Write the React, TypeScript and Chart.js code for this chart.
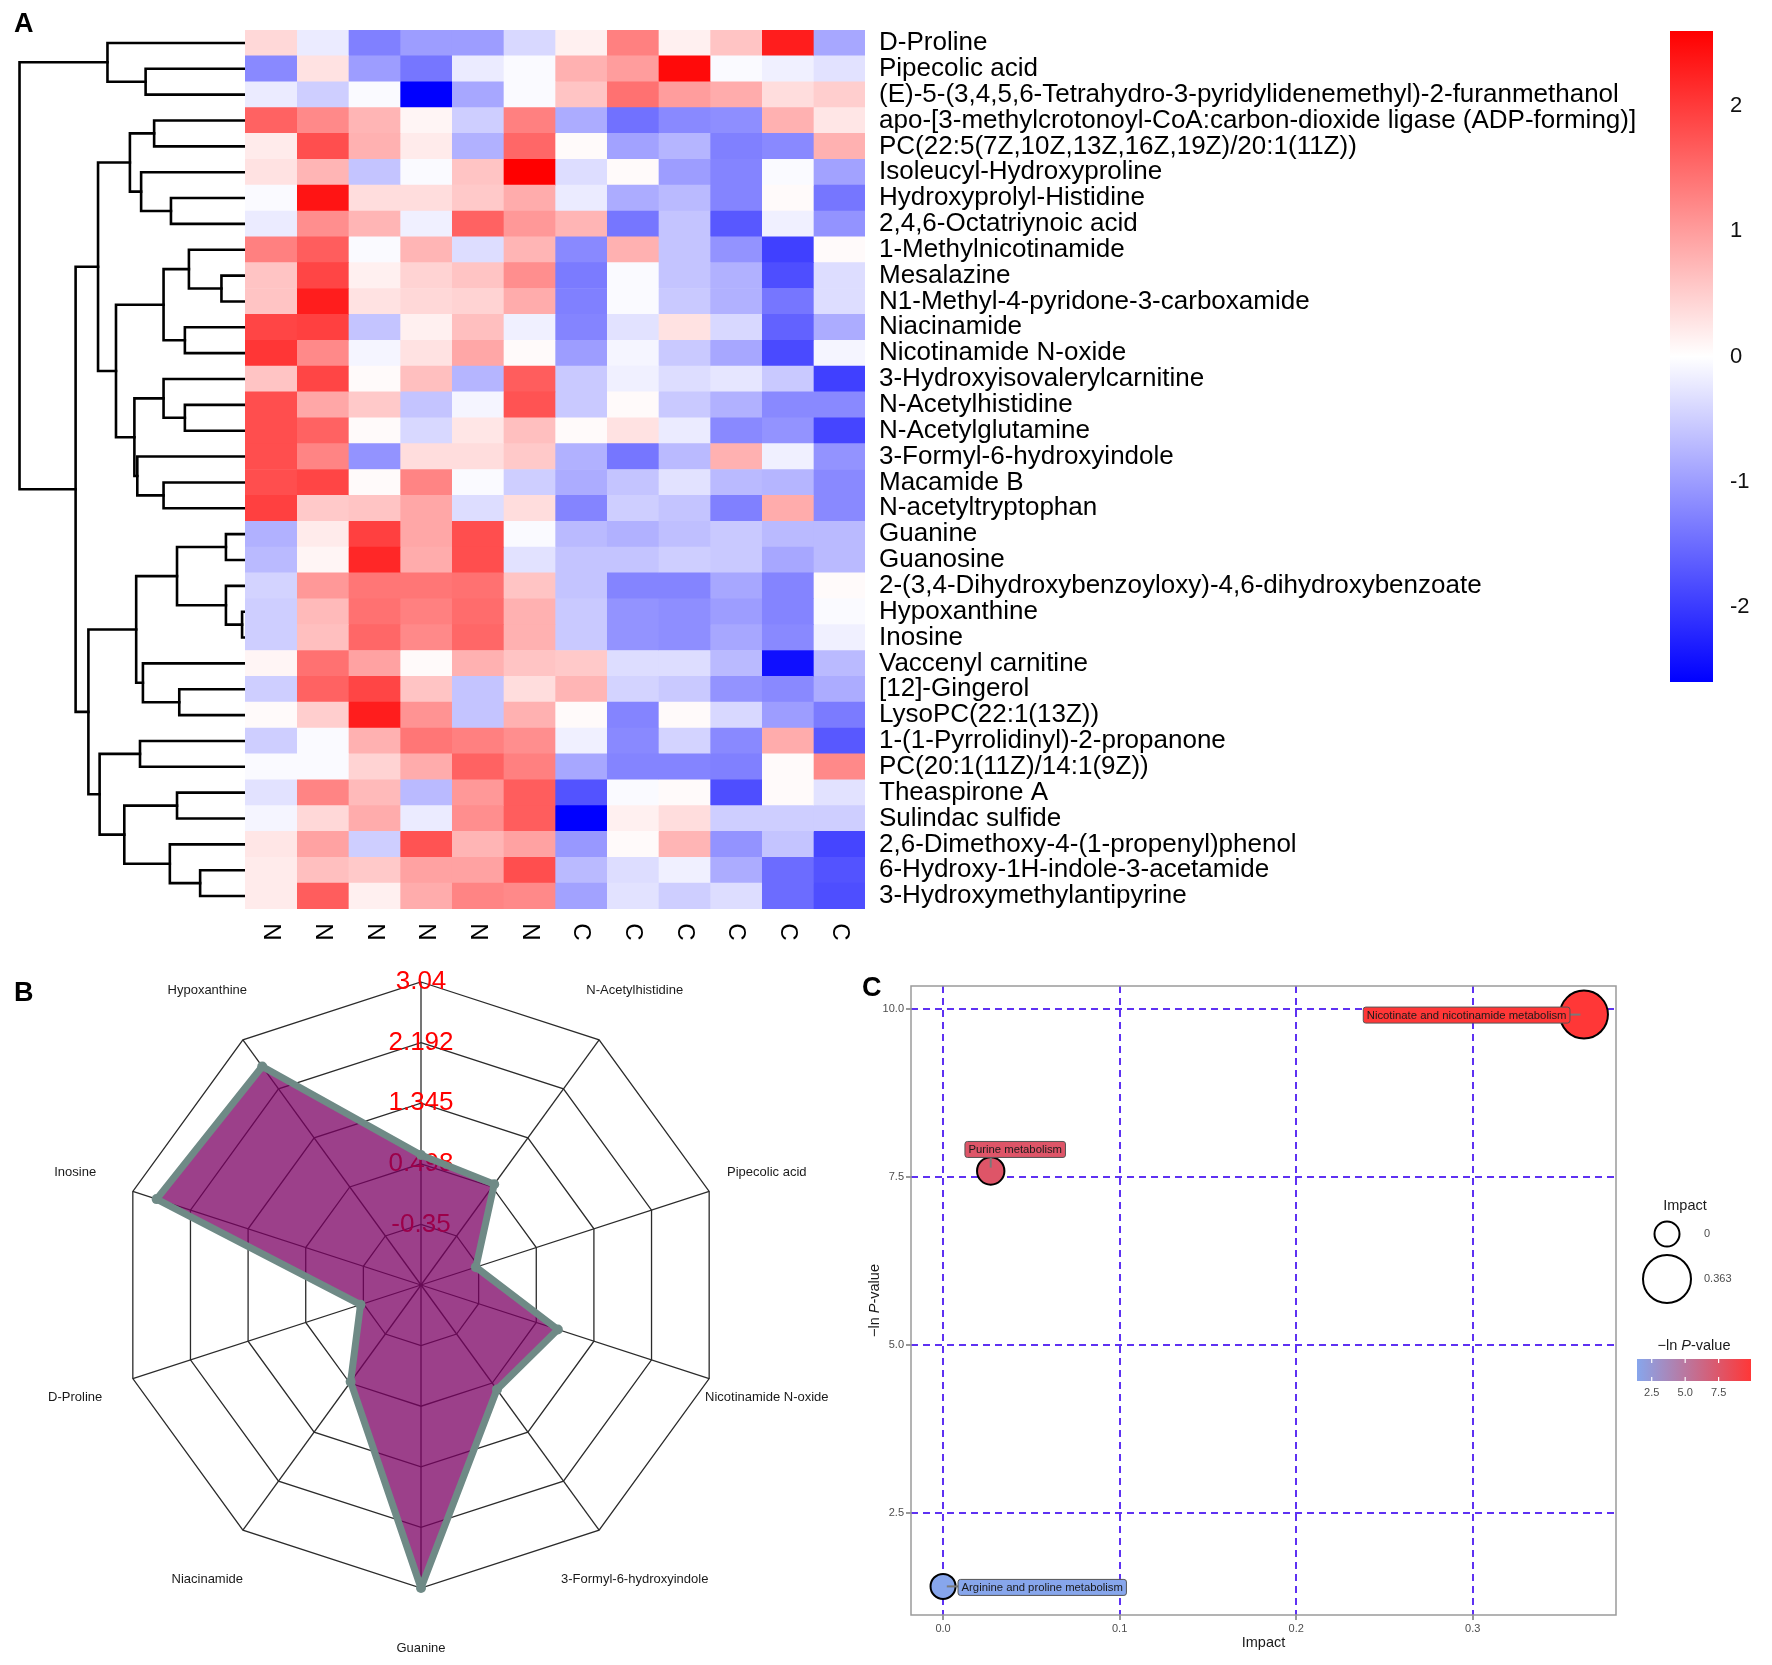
import React, { useEffect, useRef } from 'react';
import { Chart, registerables } from 'chart.js';

Chart.register(...registerables);

const FONT = "'Liberation Sans', Arial, Helvetica, sans-serif";

// ---------------- Panel A : heatmap data ----------------
const rowLabels: string[] = [
  'D-Proline',
  'Pipecolic acid',
  '(E)-5-(3,4,5,6-Tetrahydro-3-pyridylidenemethyl)-2-furanmethanol',
  'apo-[3-methylcrotonoyl-CoA:carbon-dioxide ligase (ADP-forming)]',
  'PC(22:5(7Z,10Z,13Z,16Z,19Z)/20:1(11Z))',
  'Isoleucyl-Hydroxyproline',
  'Hydroxyprolyl-Histidine',
  '2,4,6-Octatriynoic acid',
  '1-Methylnicotinamide',
  'Mesalazine',
  'N1-Methyl-4-pyridone-3-carboxamide',
  'Niacinamide',
  'Nicotinamide N-oxide',
  '3-Hydroxyisovalerylcarnitine',
  'N-Acetylhistidine',
  'N-Acetylglutamine',
  '3-Formyl-6-hydroxyindole',
  'Macamide B',
  'N-acetyltryptophan',
  'Guanine',
  'Guanosine',
  '2-(3,4-Dihydroxybenzoyloxy)-4,6-dihydroxybenzoate',
  'Hypoxanthine',
  'Inosine',
  'Vaccenyl carnitine',
  '[12]-Gingerol',
  'LysoPC(22:1(13Z))',
  '1-(1-Pyrrolidinyl)-2-propanone',
  'PC(20:1(11Z)/14:1(9Z))',
  'Theaspirone A',
  'Sulindac sulfide',
  '2,6-Dimethoxy-4-(1-propenyl)phenol',
  '6-Hydroxy-1H-indole-3-acetamide',
  '3-Hydroxymethylantipyrine',
];

const colLabels: string[] = ['N', 'N', 'N', 'N', 'N', 'N', 'C', 'C', 'C', 'C', 'C', 'C'];

// z-scores, one row per metabolite, columns N1..N6, C1..C6
const heatValues: number[][] = [
  [0.4, -0.2, -1.3, -1.0, -1.0, -0.4, 0.15, 1.3, 0.15, 0.6, 2.3, -0.9],
  [-1.2, 0.3, -1.0, -1.4, -0.2, -0.05, 0.8, 1.0, 2.5, -0.05, -0.15, -0.3],
  [-0.2, -0.5, -0.05, -2.6, -0.9, -0.05, 0.6, 1.45, 1.0, 0.85, 0.35, 0.5],
  [1.6, 1.2, 0.75, 0.1, -0.5, 1.3, -0.85, -1.45, -1.2, -1.15, 0.8, 0.25],
  [0.2, 1.8, 0.8, 0.2, -0.8, 1.55, 0.05, -0.95, -0.75, -1.3, -1.2, 0.8],
  [0.3, 0.75, -0.6, -0.05, 0.6, 2.6, -0.35, 0.05, -1.0, -1.25, -0.05, -0.95],
  [-0.05, 2.4, 0.35, 0.35, 0.55, 0.85, -0.2, -0.85, -0.7, -1.25, 0.05, -1.4],
  [-0.2, 1.15, 0.75, -0.15, 1.6, 1.05, 0.75, -1.4, -0.6, -1.7, -0.15, -1.1],
  [1.3, 1.65, -0.05, 0.75, -0.35, 0.75, -1.2, 0.8, -0.6, -1.1, -1.95, 0.05],
  [0.6, 1.9, 0.15, 0.45, 0.6, 1.15, -1.35, -0.05, -0.6, -0.8, -1.8, -0.35],
  [0.6, 2.3, 0.3, 0.4, 0.45, 0.85, -1.3, -0.05, -0.55, -0.8, -1.4, -0.35],
  [1.9, 1.95, -0.6, 0.15, 0.65, -0.15, -1.25, -0.3, 0.3, -0.4, -1.6, -0.85],
  [2.05, 1.2, -0.1, 0.3, 0.9, 0.05, -1.0, -0.1, -0.55, -0.9, -1.85, -0.1],
  [0.6, 1.9, 0.05, 0.65, -0.75, 1.65, -0.55, -0.15, -0.35, -0.25, -0.55, -1.95],
  [1.8, 0.9, 0.55, -0.6, -0.1, 1.75, -0.55, 0.05, -0.55, -0.8, -1.2, -1.2],
  [1.8, 1.6, 0.05, -0.4, 0.25, 0.65, 0.05, 0.3, -0.2, -1.2, -1.1, -1.9],
  [1.8, 1.25, -1.1, 0.35, 0.35, 0.55, -0.8, -1.4, -0.7, 0.8, -0.15, -1.1],
  [1.8, 1.9, 0.05, 1.25, -0.05, -0.5, -0.85, -0.6, -0.3, -0.7, -0.75, -1.2],
  [1.95, 0.55, 0.6, 0.9, -0.35, 0.35, -1.25, -0.5, -0.6, -1.3, 0.85, -1.2],
  [-0.8, 0.2, 1.95, 0.9, 1.8, -0.05, -0.7, -0.8, -0.65, -0.55, -0.7, -0.7],
  [-0.7, 0.1, 2.2, 0.85, 1.8, -0.3, -0.6, -0.6, -0.5, -0.55, -0.9, -0.7],
  [-0.45, 1.05, 1.4, 1.4, 1.45, 0.6, -0.6, -1.25, -1.25, -0.9, -1.25, 0.05],
  [-0.5, 0.7, 1.45, 1.3, 1.5, 0.8, -0.55, -1.1, -1.15, -1.0, -1.25, -0.05],
  [-0.5, 0.65, 1.55, 1.2, 1.55, 0.8, -0.55, -1.1, -1.15, -0.9, -1.2, -0.15],
  [0.1, 1.45, 0.95, 0.05, 0.8, 0.6, 0.55, -0.35, -0.35, -0.7, -2.45, -0.7],
  [-0.5, 1.6, 1.9, 0.6, -0.6, 0.35, 0.75, -0.45, -0.55, -1.1, -1.2, -0.85],
  [0.05, 0.5, 2.3, 1.1, -0.6, 0.8, 0.05, -1.25, 0.05, -0.4, -1.0, -1.35],
  [-0.5, -0.05, 0.8, 1.4, 1.3, 1.15, -0.15, -1.2, -0.45, -1.2, 0.85, -1.7],
  [-0.05, -0.05, 0.45, 0.85, 1.6, 1.3, -0.9, -1.25, -1.25, -1.3, 0.05, 1.2],
  [-0.3, 1.25, 0.7, -0.7, 1.05, 1.65, -1.75, -0.05, 0.05, -1.8, 0.05, -0.3],
  [-0.1, 0.4, 0.85, -0.2, 1.15, 1.65, -2.6, 0.15, 0.35, -0.5, -0.5, -0.5],
  [0.25, 0.95, -0.5, 1.75, 0.75, 0.95, -1.05, 0.05, 0.75, -1.1, -0.6, -1.9],
  [0.2, 0.65, 0.55, 0.95, 0.95, 1.8, -0.7, -0.35, -0.15, -0.85, -1.5, -1.75],
  [0.2, 1.65, 0.15, 0.85, 1.25, 1.2, -0.95, -0.3, -0.5, -0.35, -1.5, -1.8],
];

const heatLimit = 2.6;
const heatTicks: number[] = [-2, -1, 0, 1, 2];

// hclust-style merge list: negative = leaf (1-based row), positive = earlier merge; third = height
const dendroMerges: [number, number, number][] = [
  [-2, -3, 4.43],
  [-1, 1, 6.13],
  [-4, -5, 4.05],
  [-7, -8, 3.3],
  [-6, 4, 4.63],
  [3, 5, 5.13],
  [-10, -11, 1.05],
  [-9, 7, 2.5],
  [-12, -13, 2.68],
  [8, 9, 3.63],
  [-15, -16, 2.68],
  [-14, 11, 3.63],
  [-18, -19, 3.63],
  [-17, 13, 4.8],
  [12, 14, 4.93],
  [10, 15, 5.75],
  [6, 16, 6.55],
  [-20, -21, 0.85],
  [-23, -24, 0.13],
  [-22, 19, 0.85],
  [18, 20, 3.03],
  [-26, -27, 2.93],
  [-25, 22, 4.55],
  [21, 23, 4.85],
  [-28, -29, 4.68],
  [-30, -31, 3.03],
  [-33, -34, 2.0],
  [-32, 27, 3.35],
  [26, 28, 5.38],
  [25, 29, 6.48],
  [24, 30, 6.98],
  [17, 31, 7.55],
  [2, 32, 10.05],
];
const dendroMaxHeight = 10.92;

// ---------------- Panel B : radar data ----------------
const radarLabels: string[] = [
  '',
  'N-Acetylhistidine',
  'Pipecolic acid',
  'Nicotinamide N-oxide',
  '3-Formyl-6-hydroxyindole',
  'Guanine',
  'Niacinamide',
  'D-Proline',
  'Inosine',
  'Hypoxanthine',
];
const radarValues: number[] = [0.62, 0.544, -0.39, 0.815, 0.61, 3.04, 0.477, -0.308, 2.69, 2.58];
const radarTickValues: number[] = [-1.1975, -0.35, 0.4975, 1.345, 2.1925, 3.04];
const radarTickLabels: string[] = ['', '-0.35', '0.498', '1.345', '2.192', '3.04'];

// ---------------- Panel C : pathway bubble data ----------------
const pathwayNames: string[] = [
  'Nicotinate and nicotinamide metabolism',
  'Purine metabolism',
  'Arginine and proline metabolism',
];
const pathwayImpact: number[] = [0.363, 0.027, 0];
const pathwayNegLnP: number[] = [9.92, 7.59, 1.4];
const impactTicks: number[] = [0, 0.1, 0.2, 0.3];
const negLnPTicks: number[] = [2.5, 5, 7.5, 10];
const colorbarTicks: number[] = [2.5, 5.0, 7.5];
const sizeLegendValues: number[] = [0, 0.363];

// ---------------- styles ----------------
const lowRGB = [135, 166, 236];
const highRGB = [255, 55, 55];
const gridBlue = '#5e32f2';
const sizeRange = [12.5, 24];
const labelPlacement = [
  { anchor: 'right', dx: -14, dy: 0.5 },
  { anchor: 'center', dx: 24.5, dy: -21.5 },
  { anchor: 'left', dx: 15, dy: 1 },
];

function heatColor(v: number): string {
  const t = Math.max(-1, Math.min(1, v / heatLimit));
  if (t >= 0) {
    const c = Math.round(255 * (1 - t));
    return `rgb(255,${c},${c})`;
  }
  const c = Math.round(255 * (1 + t));
  return `rgb(${c},${c},255)`;
}

const pMin = Math.min(...pathwayNegLnP);
const pMax = Math.max(...pathwayNegLnP);
function pColor(v: number): string {
  const t = (v - pMin) / (pMax - pMin);
  const c = lowRGB.map((l, k) => Math.round(l + (highRGB[k] - l) * t));
  return `rgb(${c[0]},${c[1]},${c[2]})`;
}
const iMax = Math.max(...pathwayImpact);
function sizeFor(imp: number): number {
  const t = imp / iMax;
  const a = sizeRange[0] * sizeRange[0];
  const b = sizeRange[1] * sizeRange[1];
  return Math.sqrt(a + t * (b - a));
}

const panelLetter = (text: string, x: number, y: number) => ({
  id: 'letter' + text,
  afterDraw(chart: any) {
    const ctx = chart.ctx;
    ctx.save();
    ctx.font = `bold 27px ${FONT}`;
    ctx.fillStyle = '#000';
    ctx.textAlign = 'left';
    ctx.textBaseline = 'alphabetic';
    ctx.fillText(text, x, y);
    ctx.restore();
  },
});

function drawMixed(ctx: any, parts: [string, boolean][], x: number, y: number, size: number) {
  const widths = parts.map(([t, it]) => {
    ctx.font = `${it ? 'italic ' : ''}${size}px ${FONT}`;
    return ctx.measureText(t).width;
  });
  const total = widths.reduce((s, w) => s + w, 0);
  let cx = x - total / 2;
  ctx.textAlign = 'left';
  parts.forEach(([t, it], k) => {
    ctx.font = `${it ? 'italic ' : ''}${size}px ${FONT}`;
    ctx.fillText(t, cx, y);
    cx += widths[k];
  });
}
const pTitle: [string, boolean][] = [['\u2212ln ', false], ['P', true], ['-value', false]];

// ---------------- chart builders ----------------
function makeDendro() {
  const pos: { x: number; y: number }[] = [];
  const get = (ref: number) => (ref < 0 ? { x: 0, y: -ref - 1 } : pos[ref - 1]);
  const segs: { x: number; y: number }[][] = [];
  dendroMerges.forEach(([a, b, h]) => {
    const pa = get(a);
    const pb = get(b);
    segs.push([
      { x: pa.x, y: pa.y },
      { x: h, y: pa.y },
      { x: h, y: pb.y },
      { x: pb.x, y: pb.y },
    ]);
    pos.push({ x: h, y: (pa.y + pb.y) / 2 });
  });
  return {
    type: 'scatter',
    data: {
      datasets: segs.map((d) => ({
        data: d,
        showLine: true,
        borderColor: '#000',
        borderWidth: 2.6,
        pointRadius: 0,
        fill: false,
        tension: 0,
        borderCapStyle: 'square',
        borderJoinStyle: 'miter',
      })),
    },
    options: {
      animation: false,
      responsive: false,
      layout: { padding: { top: 30, bottom: 11, left: 0, right: 0 } },
      plugins: { legend: { display: false }, tooltip: { enabled: false } },
      scales: {
        x: { type: 'linear', reverse: true, min: 0, max: dendroMaxHeight, display: false },
        y: { type: 'linear', reverse: true, min: -0.5, max: rowLabels.length - 0.5, display: false },
      },
    },
    plugins: [panelLetter('A', 14, 32)],
  };
}

const colLabelPlugin = {
  id: 'colLabels',
  afterDraw(chart: any) {
    const { ctx, chartArea, scales } = chart;
    ctx.save();
    ctx.fillStyle = '#000';
    ctx.font = `24px ${FONT}`;
    ctx.textAlign = 'center';
    ctx.textBaseline = 'middle';
    colLabels.forEach((lab, c) => {
      const x = scales.x.getPixelForValue(c + 0.5);
      ctx.save();
      ctx.translate(x, chartArea.bottom + 23);
      ctx.rotate(Math.PI / 2);
      ctx.fillText(lab, 0, 0);
      ctx.restore();
    });
    ctx.restore();
  },
};

function makeHeatmap() {
  return {
    type: 'bar',
    data: {
      labels: rowLabels,
      datasets: colLabels.map((lab, c) => ({
        label: `${lab}${c + 1}`,
        data: heatValues.map(() => 1),
        backgroundColor: heatValues.map((row) => heatColor(row[c])),
        borderWidth: 0,
        barPercentage: 1,
        categoryPercentage: 1,
      })),
    },
    options: {
      indexAxis: 'y',
      animation: false,
      responsive: false,
      layout: { padding: { top: 30, bottom: 51, left: 0, right: 0 } },
      plugins: { legend: { display: false }, tooltip: { enabled: false } },
      scales: {
        x: { stacked: true, min: 0, max: colLabels.length, display: false },
        y: {
          stacked: true,
          position: 'right',
          grid: { display: false, drawTicks: false },
          border: { display: false },
          ticks: { autoSkip: false, padding: 14, color: '#000', font: { family: FONT, size: 26 } },
          afterFit: (s: any) => {
            s.width = 795;
          },
        },
      },
    },
    plugins: [colLabelPlugin],
  };
}

function makeHeatScale() {
  return {
    type: 'bar',
    data: {
      labels: [''],
      datasets: [
        {
          data: [[-heatLimit, heatLimit]],
          backgroundColor: (ctx: any) => {
            const chart = ctx.chart;
            const y = chart.scales && chart.scales.y;
            if (!y || !chart.chartArea) return '#fff';
            const y0 = y.getPixelForValue(-heatLimit);
            const y1 = y.getPixelForValue(heatLimit);
            if (!isFinite(y0) || !isFinite(y1) || y0 === y1) return '#fff';
            const g = chart.ctx.createLinearGradient(0, y0, 0, y1);
            g.addColorStop(0, heatColor(-heatLimit));
            g.addColorStop(0.5, heatColor(0));
            g.addColorStop(1, heatColor(heatLimit));
            return g;
          },
          borderWidth: 0,
          barPercentage: 1,
          categoryPercentage: 1,
        },
      ],
    },
    options: {
      animation: false,
      responsive: false,
      layout: { padding: { top: 31, bottom: 31, left: 10, right: 0 } },
      plugins: { legend: { display: false }, tooltip: { enabled: false } },
      scales: {
        x: { display: false },
        y: {
          position: 'right',
          min: -heatLimit,
          max: heatLimit,
          grid: { display: false, drawTicks: false },
          border: { display: false },
          afterBuildTicks: (s: any) => {
            s.ticks = heatTicks.map((v) => ({ value: v }));
          },
          ticks: { padding: 17, color: '#111', font: { family: FONT, size: 22 }, callback: (v: any) => String(v) },
          afterFit: (s: any) => {
            s.width = 59;
          },
        },
      },
    },
  };
}

const radarLabelPlugin = {
  id: 'radarLabels',
  afterDraw(chart: any) {
    const s = chart.scales.r;
    const ctx = chart.ctx;
    ctx.save();
    ctx.font = `13px ${FONT}`;
    ctx.fillStyle = '#1a1a1a';
    ctx.textAlign = 'center';
    ctx.textBaseline = 'middle';
    radarLabels.forEach((lab, i) => {
      const p = s.getPointPosition(i, s.drawingArea * 1.2);
      ctx.fillText(lab, p.x, p.y);
    });
    ctx.restore();
  },
};

function makeRadar() {
  return {
    type: 'radar',
    data: {
      labels: radarLabels,
      datasets: [
        {
          data: radarValues,
          fill: 'start',
          backgroundColor: 'rgba(123,0,99,0.75)',
          borderColor: '#6f8a86',
          borderWidth: 7,
          borderJoinStyle: 'round',
          pointRadius: 5,
          pointBackgroundColor: '#6f8a86',
          pointBorderWidth: 0,
          tension: 0,
        },
      ],
    },
    options: {
      animation: false,
      responsive: false,
      // radial scale reserves (tick font size + backdrop padding)/2 on each side
      layout: { padding: { left: 103, right: 131, top: 7, bottom: 62 } },
      plugins: { legend: { display: false }, tooltip: { enabled: false } },
      scales: {
        r: {
          min: radarTickValues[0],
          max: radarTickValues[radarTickValues.length - 1],
          startAngle: 0,
          grid: { circular: false, color: '#2b2b2b', lineWidth: 1.3 },
          angleLines: { display: true, color: '#2b2b2b', lineWidth: 1.3 },
          pointLabels: { display: false },
          afterBuildTicks: (s: any) => {
            s.ticks = radarTickValues.map((v) => ({ value: v }));
          },
          ticks: {
            display: true,
            showLabelBackdrop: false,
            color: '#ff0000',
            font: { family: FONT, size: 26 },
            callback: (_v: any, i: number) => radarTickLabels[i] ?? '',
          },
        },
      },
    },
    plugins: [radarLabelPlugin, panelLetter('B', 14, 41)],
  };
}

const bubbleDecor = {
  id: 'bubbleDecor',
  beforeDatasetsDraw(chart: any) {
    const { ctx, chartArea: a } = chart;
    ctx.save();
    ctx.strokeStyle = '#9a9a9a';
    ctx.lineWidth = 1.5;
    ctx.strokeRect(a.left, a.top, a.right - a.left, a.bottom - a.top);
    ctx.restore();
  },
  afterDatasetsDraw(chart: any) {
    const ctx = chart.ctx;
    const pts = chart.getDatasetMeta(0).data;
    ctx.save();
    ctx.font = `11.3px ${FONT}`;
    pathwayNames.forEach((name, i) => {
      const p = pts[i];
      if (!p) return;
      const pl = labelPlacement[i];
      ctx.font = `11.3px ${FONT}`;
      const tw = ctx.measureText(name).width;
      const bw = tw + 7;
      const bh = 16;
      const ax = p.x + pl.dx;
      const ay = p.y + pl.dy;
      const left = pl.anchor === 'right' ? ax - bw : pl.anchor === 'left' ? ax : ax - bw / 2;
      const top = ay - bh / 2;
      const sx = Math.min(Math.max(p.x, left), left + bw);
      const sy = Math.min(Math.max(p.y, top), top + bh);
      ctx.strokeStyle = '#7a7a7a';
      ctx.lineWidth = 2;
      ctx.beginPath();
      ctx.moveTo(sx, sy);
      ctx.lineTo(sx + (p.x - sx) * 0.75, sy + (p.y - sy) * 0.75);
      ctx.stroke();
      ctx.fillStyle = pColor(pathwayNegLnP[i]);
      ctx.strokeStyle = '#555';
      ctx.lineWidth = 1;
      ctx.beginPath();
      if (ctx.roundRect) ctx.roundRect(left, top, bw, bh, 2.5);
      else ctx.rect(left, top, bw, bh);
      ctx.fill();
      ctx.stroke();
      ctx.fillStyle = '#1a1a1a';
      ctx.textAlign = 'left';
      ctx.textBaseline = 'middle';
      ctx.fillText(name, left + 3.5, top + bh / 2 + 0.5);
    });
    ctx.restore();
  },
  afterDraw(chart: any) {
    const ctx = chart.ctx;
    const a = chart.chartArea;
    ctx.save();
    ctx.fillStyle = '#1a1a1a';
    ctx.textBaseline = 'middle';
    // axis titles
    ctx.font = `14.5px ${FONT}`;
    ctx.textAlign = 'center';
    ctx.fillText('Impact', (a.left + a.right) / 2, 683);
    ctx.save();
    ctx.translate(15, (a.top + a.bottom) / 2);
    ctx.rotate(-Math.PI / 2);
    drawMixed(ctx, pTitle, 0, 0, 14.5);
    ctx.restore();

    // size legend
    ctx.fillStyle = '#1a1a1a';
    ctx.font = `14.5px ${FONT}`;
    ctx.textAlign = 'center';
    ctx.fillText('Impact', 825, 246);
    const cy = [274, 319];
    sizeLegendValues.forEach((v, k) => {
      ctx.beginPath();
      ctx.arc(807, cy[k], sizeFor(v), 0, Math.PI * 2);
      ctx.strokeStyle = '#000';
      ctx.lineWidth = 2;
      ctx.stroke();
      ctx.font = `11px ${FONT}`;
      ctx.fillStyle = '#4d4d4d';
      ctx.textAlign = 'left';
      ctx.fillText(String(v), 844, cy[k]);
    });

    // colour legend
    ctx.fillStyle = '#1a1a1a';
    drawMixed(ctx, pTitle, 834, 386, 14.5);
    const bx = 777;
    const bwid = 114;
    const by = 399;
    const bhgt = 22;
    const g = ctx.createLinearGradient(bx, 0, bx + bwid, 0);
    g.addColorStop(0, pColor(pMin));
    g.addColorStop(0.5, pColor((pMin + pMax) / 2));
    g.addColorStop(1, pColor(pMax));
    ctx.fillStyle = g;
    ctx.fillRect(bx, by, bwid, bhgt);
    ctx.strokeStyle = '#fff';
    ctx.lineWidth = 1.2;
    ctx.font = `11px ${FONT}`;
    ctx.textAlign = 'center';
    colorbarTicks.forEach((v) => {
      const x = bx + ((v - pMin) / (pMax - pMin)) * bwid;
      ctx.beginPath();
      ctx.moveTo(x, by);
      ctx.lineTo(x, by + 4);
      ctx.moveTo(x, by + bhgt - 4);
      ctx.lineTo(x, by + bhgt);
      ctx.stroke();
      ctx.fillStyle = '#4d4d4d';
      ctx.fillText(v.toFixed(1), x, 433);
    });
    ctx.restore();
  },
};

function makeBubble() {
  const xr = Math.max(...pathwayImpact) - Math.min(...pathwayImpact);
  const yr = pMax - pMin;
  const xMin = Math.min(...pathwayImpact) - 0.05 * xr;
  const xMax = Math.max(...pathwayImpact) + 0.05 * xr;
  const yMin = pMin - 0.05 * yr;
  const yMax = pMax + 0.05 * yr;
  const gridOpts = {
    color: gridBlue,
    lineWidth: 2,
    drawTicks: true,
    tickLength: 5,
    tickColor: '#555',
    tickWidth: 1.2,
    tickBorderDash: [],
  };
  return {
    type: 'bubble',
    data: {
      datasets: [
        {
          data: pathwayImpact.map((x, i) => ({ x, y: pathwayNegLnP[i], r: sizeFor(x) })),
          backgroundColor: pathwayNegLnP.map(pColor),
          borderColor: '#000',
          borderWidth: 2,
        },
      ],
    },
    options: {
      animation: false,
      responsive: false,
      layout: { padding: { top: 23, right: 156, left: 0, bottom: 0 } },
      plugins: { legend: { display: false }, tooltip: { enabled: false } },
      scales: {
        x: {
          type: 'linear',
          min: xMin,
          max: xMax,
          grid: gridOpts,
          border: { display: false, dash: [7, 5] },
          afterBuildTicks: (s: any) => {
            s.ticks = impactTicks.map((v) => ({ value: v }));
          },
          ticks: {
            padding: 2,
            color: '#4d4d4d',
            maxRotation: 0,
            font: { family: FONT, size: 11 },
            callback: (v: any) => Number(v).toFixed(1),
          },
          afterFit: (s: any) => {
            s.height = 50;
          },
        },
        y: {
          type: 'linear',
          min: yMin,
          max: yMax,
          grid: gridOpts,
          border: { display: false, dash: [7, 5] },
          afterBuildTicks: (s: any) => {
            s.ticks = negLnPTicks.map((v) => ({ value: v }));
          },
          ticks: {
            padding: 2,
            color: '#4d4d4d',
            font: { family: FONT, size: 11 },
            callback: (v: any) => Number(v).toFixed(1),
          },
          afterFit: (s: any) => {
            s.width = 51;
          },
        },
      },
    },
    plugins: [bubbleDecor, panelLetter('C', 2, 36)],
  };
}

function ChartCanvas({ left, top, width, height, make }: any) {
  const ref = useRef<HTMLCanvasElement | null>(null);
  useEffect(() => {
    if (!ref.current) return;
    let chart: any = null;
    try {
      chart = new Chart(ref.current, make() as any);
    } catch (e) {
      console.error(e);
    }
    return () => {
      if (chart) chart.destroy();
    };
  }, []);
  return (
    <canvas
      ref={ref}
      width={width}
      height={height}
      style={{ position: 'absolute', left, top, width, height }}
    />
  );
}

export default function App() {
  return (
    <div
      style={{
        position: 'absolute',
        left: 0,
        top: 0,
        width: 1772,
        height: 1665,
        background: '#fff',
        overflow: 'hidden',
      }}
    >
      <ChartCanvas left={0} top={0} width={245} height={920} make={makeDendro} />
      <ChartCanvas left={245} top={0} width={1415} height={960} make={makeHeatmap} />
      <ChartCanvas left={1660} top={0} width={112} height={713} make={makeHeatScale} />
      <ChartCanvas left={0} top={960} width={870} height={705} make={makeRadar} />
      <ChartCanvas left={860} top={960} width={912} height={705} make={makeBubble} />
    </div>
  );
}
